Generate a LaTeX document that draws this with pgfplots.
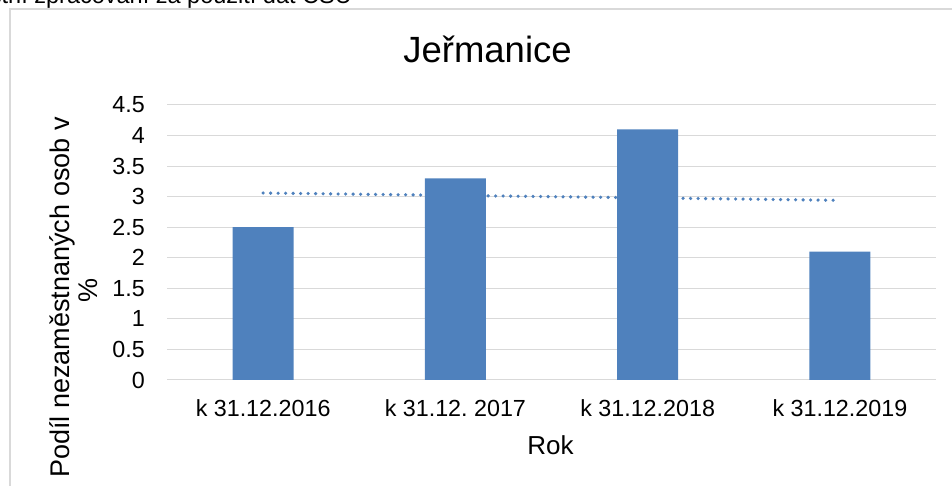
\documentclass[border=0pt]{standalone}
\usepackage{fontspec}
\setmainfont{Liberation Sans}
\usepackage{pgfplots}
\pgfplotsset{compat=1.18}
\definecolor{barblue}{HTML}{4F81BD}
\definecolor{gridgray}{HTML}{D9D9D9}
\frenchspacing
\begin{document}
\begin{tikzpicture}[x=1pt,y=1pt]
\draw[gridgray, line width=1.5pt] (10,-5) -- (10,477) -- (960,477);
\node[anchor=base east, inner sep=0pt, font=\fontsize{23.5}{27}\selectfont] at (352,482) {Zdroj: vlastní zpracování za použití dat ČSÚ};
\begin{axis}[
  at={(167pt,106pt)}, anchor=south west, scale only axis,
  width=769pt, height=275pt,
  xmin=-0.5, xmax=3.5, ymin=0, ymax=4.5,
  xtick={0,1,2,3},
  xticklabels={k 31.12.2016, k 31.12. 2017, k 31.12.2018, k 31.12.2019},
  ytick={0,0.5,1,1.5,2,2.5,3,3.5,4,4.5},
  /pgf/number format/assume math mode=true,
  axis line style={draw=none}, major tick length=0pt,
  ymajorgrids, grid style={gridgray, line width=1pt},
  tick label style={font=\fontsize{23.3}{27}\selectfont},
  yticklabel style={anchor=east, inner sep=0pt, xshift=-22pt},
  xticklabel style={anchor=base, inner sep=0pt, yshift=-36.7pt},
  clip=false,
]
\addplot[ybar, bar width=61pt, fill=barblue, draw=none] coordinates {(0,2.5) (1,3.3) (2,4.1) (3,2.1)};
\addplot[barblue, line width=3.6pt, line cap=round, dash pattern=on 0pt off 7.5pt] coordinates {(0,3.06) (3,2.94)};
\end{axis}
\node[anchor=base, inner sep=0pt, font=\fontsize{36.5}{40}\selectfont] at (487.5,423) {Jeřmanice};
\node[anchor=base, rotate=90, inner sep=0pt, font=\fontsize{27}{30}\selectfont] at (69,188.5) {Podíl nezaměstnaných osob v};
\node[anchor=base, rotate=90, inner sep=0pt, font=\fontsize{27}{30}\selectfont] at (97,195.5) {\%};
\node[anchor=base, inner sep=0pt, font=\fontsize{26}{30}\selectfont] at (550.5,31) {Rok};
\pgfresetboundingbox
\useasboundingbox (0,0) rectangle (952,486);
\end{tikzpicture}
\end{document}
